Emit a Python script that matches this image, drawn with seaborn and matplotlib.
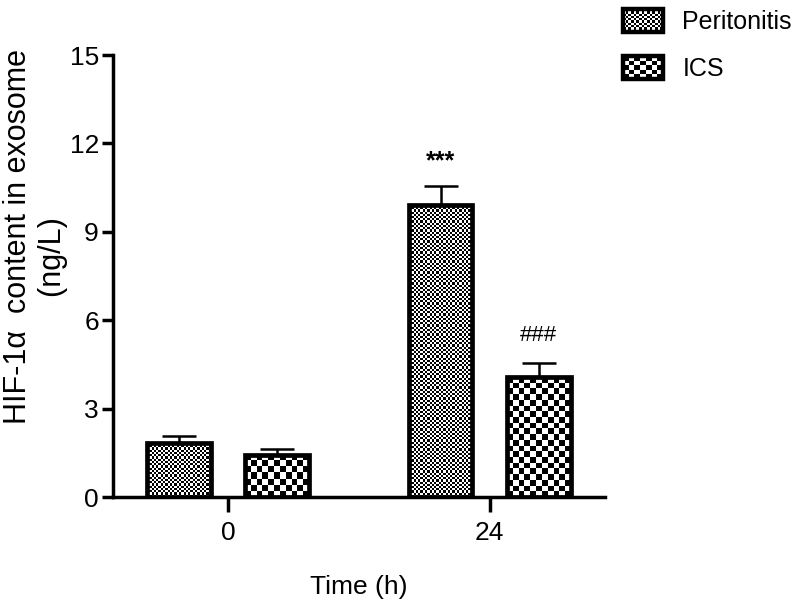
import numpy as np
import pandas as pd
import matplotlib
matplotlib.use("Agg")
import matplotlib.pyplot as plt
import seaborn as sns
from matplotlib.patches import Patch, Rectangle
from matplotlib.legend_handler import HandlerBase
from matplotlib.image import BboxImage
from matplotlib.transforms import Bbox, TransformedBbox
from matplotlib.colors import Normalize

# data
times = ['0', '24']
groups = ['Peritonitis', 'ICS']
peritonitis_mean = [1.83, 9.91]
peritonitis_err = [0.24, 0.64]
ics_mean = [1.43, 4.07]
ics_err = [0.20, 0.48]
marks = {('Peritonitis', '24'): '***', ('ICS', '24'): '###'}

# checker cell size (pixels) for each group
cells = {'Peritonitis': 2.2, 'ICS': 5.5}

df = pd.DataFrame({
    'time': times * 2,
    'group': [groups[0]] * 2 + [groups[1]] * 2,
    'value': peritonitis_mean + ics_mean,
    'err': peritonitis_err + ics_err,
})


def checker(ny, nx):
    ny, nx = max(int(ny), 1), max(int(nx), 1)
    return (np.indices((ny, nx)).sum(axis=0) % 2).astype(float)


class CheckerHandler(HandlerBase):
    def __init__(self, cell):
        super().__init__()
        self.cell = cell

    def create_artists(self, legend, orig_handle, xdescent, ydescent,
                       width, height, fontsize, trans):
        bb = TransformedBbox(Bbox.from_bounds(-xdescent, -ydescent, width, height), trans)
        img = BboxImage(bb, cmap='gray', norm=Normalize(0, 1), interpolation='nearest')
        img.set_data(checker(28 / self.cell, 40 / self.cell))
        rect = Rectangle((-xdescent, -ydescent), width, height, facecolor='none',
                         edgecolor='black', linewidth=3.2, transform=trans)
        return [img, rect]


sns.set_style('ticks')
plt.rcParams['font.family'] = ['Liberation Sans', 'DejaVu Sans']
plt.rcParams.update({'text.color': 'black', 'axes.labelcolor': 'black',
                     'xtick.color': 'black', 'ytick.color': 'black',
                     'axes.edgecolor': 'black'})

fig = plt.figure(figsize=(8, 6.05), dpi=100)
ax = fig.add_axes([0.141, 0.1785, 0.615, 0.7305])

sns.barplot(data=df, x='time', y='value', hue='group', hue_order=groups,
            palette=['white', 'white'], width=0.75, gap=0.35, errorbar=None,
            edgecolor='black', linewidth=3.4, legend=False, ax=ax)

ax.set_xlim(-0.44, 1.44)
ax.set_ylim(0, 15)
ax.set_yticks([0, 3, 6, 9, 12, 15])

to_px = ax.transData
for grp, cont in zip(groups, ax.containers):
    sub = df[df['group'] == grp].reset_index(drop=True)
    for i, bar in enumerate(cont.patches):
        bar.set_facecolor('none')
        bar.set_zorder(3)
        x0, y0 = bar.get_x(), bar.get_y()
        w, h = bar.get_width(), bar.get_height()
        (px0, py0), (px1, py1) = to_px.transform([(x0, y0), (x0 + w, y0 + h)])
        arr = checker(abs(py1 - py0) / cells[grp], abs(px1 - px0) / cells[grp])
        ax.imshow(arr, extent=(x0, x0 + w, y0, y0 + h), cmap='gray', vmin=0, vmax=1,
                  interpolation='nearest', aspect='auto', zorder=2)
        xc = x0 + w / 2
        ax.errorbar(xc, h, yerr=[[0], [sub.loc[i, 'err']]], fmt='none', ecolor='black',
                    elinewidth=1.8, capsize=12, capthick=1.8, zorder=2.5)
        t = marks.get((grp, sub.loc[i, 'time']))
        if t:
            if t.startswith('*'):
                ax.annotate(t, xy=(xc, h + sub.loc[i, 'err']), xytext=(0, 18),
                            textcoords='offset points', ha='center', va='center',
                            fontsize=18, fontweight='bold')
            else:
                ax.annotate(t, xy=(xc, h + sub.loc[i, 'err']), xytext=(0, 20),
                            textcoords='offset points', ha='center', va='center',
                            fontsize=16)

ax.set_xlim(-0.44, 1.44)
ax.set_ylim(0, 15)

sns.despine(ax=ax)
for s in ['left', 'bottom']:
    ax.spines[s].set_linewidth(2.5)
ax.tick_params(axis='y', width=2.5, length=8, labelsize=19, pad=2)
ax.tick_params(axis='x', width=2.5, length=11, labelsize=19, pad=6)
ax.set_xlabel('Time (h)', fontsize=19, labelpad=22)
ax.set_ylabel('HIF-1α  content in exosome\n(ng/L)' + ' ' * 5, fontsize=22,
              multialignment='center')
ax.yaxis.set_label_coords(-0.092, 0.59)

h1 = Patch(label='Peritonitis')
h2 = Patch(label='ICS')
fig.legend(handles=[h1, h2], handler_map={h1: CheckerHandler(cells['Peritonitis'] * 1.2),
                                          h2: CheckerHandler(cells['ICS'])},
           loc='upper left', bbox_to_anchor=(0.75, 1.022), frameon=False, fontsize=18,
           handlelength=1.6, handleheight=1.0, labelspacing=0.9, handletextpad=0.8)

fig.savefig('out.png', dpi=100)
